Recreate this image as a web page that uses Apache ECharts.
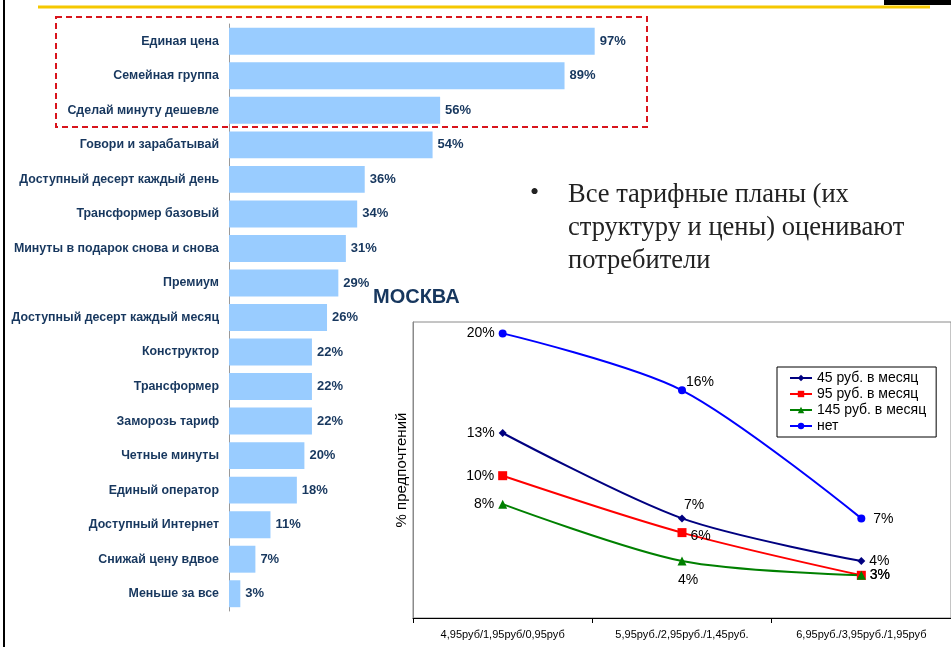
<!DOCTYPE html>
<html>
<head>
<meta charset="utf-8">
<script src="https://cdn.jsdelivr.net/npm/echarts@6/dist/echarts.min.js"></script>
<style>
  html, body { margin: 0; padding: 0; background: #fff; }
  #main { width: 951px; height: 647px; }
</style>
</head>
<body>
<div id="main"></div>
<script>
// bar chart: tariff plans
var planNames = ['Единая цена', 'Семейная группа', 'Сделай минуту дешевле', 'Говори и зарабатывай',
  'Доступный десерт каждый день', 'Трансформер базовый', 'Минуты в подарок снова и снова', 'Премиум',
  'Доступный десерт каждый месяц', 'Конструктор', 'Трансформер', 'Заморозь тариф', 'Четные минуты',
  'Единый оператор', 'Доступный Интернет', 'Снижай цену вдвое', 'Меньше за все'];
var planValues = [97, 89, 56, 54, 36, 34, 31, 29, 26, 22, 22, 22, 20, 18, 11, 7, 3];

// line chart: Москва
var priceCats = ['4,95руб/1,95руб/0,95руб', '5,95руб./2,95руб./1,45руб.', '6,95руб./3,95руб./1,95руб'];
var s45 = [13, 7, 4];
var s95 = [10, 6, 3];
var s145 = [8, 4, 3];
var sNone = [20, 16, 7];
var seriesNames = ['45 руб. в месяц', '95 руб. в месяц', '145 руб. в месяц', 'нет'];

var navy = '#17375e';
var myChart = echarts.init(document.getElementById('main'));

// label placement per point (style only)
function pts(vals, positions, offsets) {
  return vals.map(function (v, i) {
    return { value: v, label: { position: positions[i], offset: offsets[i] } };
  });
}

var lineLabel = { show: true, formatter: '{c}%', color: '#000', fontSize: 14, fontFamily: 'Liberation Sans', distance: 4 };

option = {
  animation: false,
  backgroundColor: '#fff',
  grid: [
    { left: 229, right: 345, top: 24, bottom: 36 },
    { left: 413, right: -5, top: 322, bottom: 29, show: true, borderColor: '#8a8a8a', borderWidth: 1 }
  ],
  xAxis: [
    { gridIndex: 0, type: 'value', min: 0, max: 100, show: false },
    {
      gridIndex: 1, type: 'category', data: priceCats, boundaryGap: true,
      axisLine: { lineStyle: { color: '#000' } },
      axisTick: { show: true, length: 5, lineStyle: { color: '#000' } },
      axisLabel: { fontSize: 11, color: '#000', fontFamily: 'Liberation Sans', margin: 11 }
    }
  ],
  yAxis: [
    {
      gridIndex: 0, type: 'category', data: planNames, inverse: true,
      axisLine: { lineStyle: { color: '#999' } },
      axisTick: { length: 5, lineStyle: { color: '#999' } },
      axisLabel: { color: navy, fontWeight: 'bold', fontSize: 12.4, fontFamily: 'Liberation Sans', margin: 10 }
    },
    {
      gridIndex: 1, type: 'value', min: 0, max: 20.8,
      axisLine: { show: true, lineStyle: { color: '#8a8a8a' } },
      axisTick: { show: false }, axisLabel: { show: false }, splitLine: { show: false },
      name: '% предпочтений', nameLocation: 'middle', nameGap: 4, nameRotate: 90,
      nameTextStyle: { color: '#000', fontSize: 15, fontFamily: 'Liberation Sans' }
    }
  ],
  legend: {
    data: seriesNames,
    orient: 'vertical', left: 777, top: 367,
    itemGap: 2, itemWidth: 22, itemHeight: 8,
    backgroundColor: '#fff', borderColor: '#000', borderWidth: 1, borderRadius: 0,
    padding: [4, 10, 4, 12],
    textStyle: { color: '#000', fontSize: 14, fontFamily: 'Liberation Sans' }
  },
  graphic: [
    { type: 'line', shape: { x1: 4, y1: 0, x2: 4, y2: 647 }, style: { stroke: '#000', lineWidth: 2 } },
    { type: 'line', shape: { x1: 38, y1: 7, x2: 930, y2: 7 }, style: { stroke: '#f5c800', lineWidth: 3 } },
    { type: 'rect', shape: { x: 884, y: 0, width: 67, height: 5 }, style: { fill: '#000' } },
    { type: 'rect', shape: { x: 56, y: 17, width: 591, height: 110 },
      style: { fill: 'none', stroke: '#d9141c', lineWidth: 2, lineDash: [6, 4] }, z: 10 },
    { type: 'text', left: 530, top: 180, style: { text: '•', font: '26px "Liberation Serif"', fill: '#222' } },
    { type: 'text', left: 568, top: 179,
      style: { text: 'Все тарифные планы (их\nструктуру и цены) оценивают\nпотребители',
        font: '26.5px "Liberation Serif"', lineHeight: 33, fill: '#222' } },
    { type: 'text', left: 373, top: 287,
      style: { text: 'МОСКВА', font: 'bold 20px "Liberation Sans"', fill: navy } }
  ],
  series: [
    {
      type: 'bar', xAxisIndex: 0, yAxisIndex: 0, data: planValues,
      barCategoryGap: '22%',
      itemStyle: { color: '#99ccff' },
      label: { show: true, position: 'right', distance: 5, formatter: '{c}%',
        color: navy, fontWeight: 'bold', fontSize: 13, fontFamily: 'Liberation Sans' }
    },
    {
      name: seriesNames[0], type: 'line', xAxisIndex: 1, yAxisIndex: 1, smooth: 0.3,
      data: pts(s45, ['left', 'top', 'right'], [[0, 0], [12, 2], [0, 0]]),
      symbol: 'diamond', symbolSize: 8,
      lineStyle: { color: '#000080', width: 2 }, itemStyle: { color: '#000080' },
      label: lineLabel
    },
    {
      name: seriesNames[1], type: 'line', xAxisIndex: 1, yAxisIndex: 1, smooth: 0.3,
      data: pts(s95, ['left', 'right', 'right'], [[0, 0], [0, 4], [0, 0]]),
      symbol: 'rect', symbolSize: 9,
      lineStyle: { color: '#ff0000', width: 2 }, itemStyle: { color: '#ff0000' },
      label: lineLabel
    },
    {
      name: seriesNames[2], type: 'line', xAxisIndex: 1, yAxisIndex: 1, smooth: 0.3,
      data: pts(s145, ['left', 'bottom', 'right'], [[0, 0], [6, 4], [0, 0]]),
      symbol: 'triangle', symbolSize: 9,
      lineStyle: { color: '#008000', width: 2 }, itemStyle: { color: '#008000' },
      label: lineLabel
    },
    {
      name: seriesNames[3], type: 'line', xAxisIndex: 1, yAxisIndex: 1, smooth: 0.3,
      data: pts(sNone, ['left', 'right', 'right'], [[0, 0], [-4, -8], [4, 1]]),
      symbol: 'circle', symbolSize: 8,
      lineStyle: { color: '#0000ff', width: 2 }, itemStyle: { color: '#0000ff' },
      label: lineLabel
    }
  ]
};
myChart.setOption(option);
</script>
</body>
</html>
